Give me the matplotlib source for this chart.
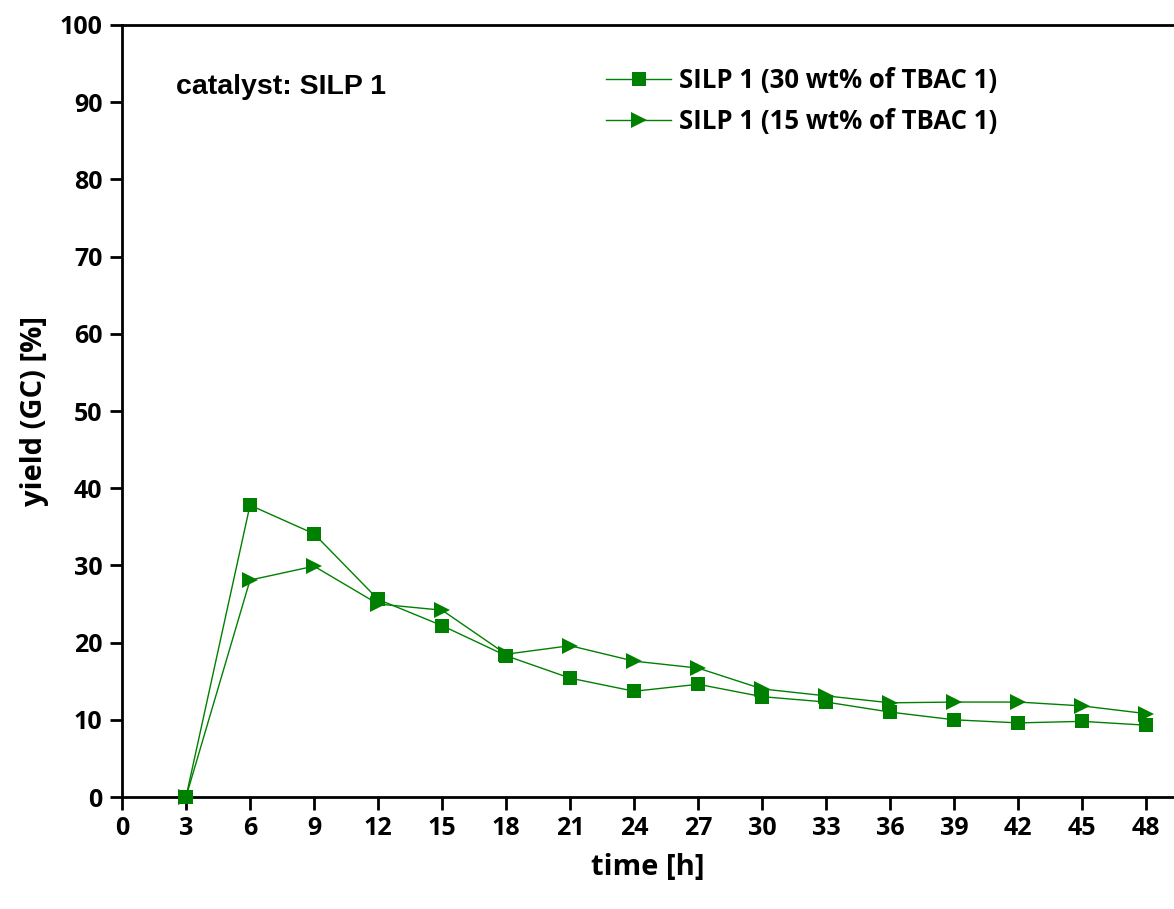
import matplotlib
matplotlib.use("Agg")
import matplotlib.pyplot as plt

# time points [h]
time_h = [3, 6, 9, 12, 15, 18, 21, 24, 27, 30, 33, 36, 39, 42, 45, 48]

# yield (GC) [%]
yield_30 = [0.0, 37.8, 34.1, 25.6, 22.2, 18.3, 15.4, 13.7, 14.6, 13.0, 12.3, 11.0, 10.0, 9.6, 9.8, 9.3]
yield_15 = [0.0, 28.1, 29.9, 25.0, 24.2, 18.5, 19.6, 17.6, 16.7, 14.0, 13.1, 12.2, 12.3, 12.3, 11.8, 10.8]

label_30 = "SILP 1 (30 wt% of TBAC 1)"
label_15 = "SILP 1 (15 wt% of TBAC 1)"

xticks = list(range(0, 49, 3))
yticks = list(range(0, 101, 10))

green = "#008000"
main_font = "Open Sans"

fig = plt.figure(figsize=(11.74, 9.09), dpi=100)
ax = fig.add_axes([0.1039, 0.1232, 0.8961, 0.8493])

ax.plot(time_h, yield_30, color=green, lw=1.0, marker="s", markersize=10,
        markeredgewidth=0, label=label_30, clip_on=False, zorder=3)
ax.plot(time_h, yield_15, color=green, lw=1.0, marker=">", markersize=12,
        markeredgewidth=0, label=label_15, clip_on=False, zorder=3)

ax.set_xlim(0, 49.3)
ax.set_ylim(0, 100)
ax.set_xticks(xticks)
ax.set_yticks(yticks)

for s in ["left", "bottom", "top"]:
    ax.spines[s].set_linewidth(2.0)
ax.spines["right"].set_visible(False)

ax.tick_params(direction="out", length=9, width=2.0, pad=5)
ax.tick_params(axis="y", pad=5)
for lab in ax.get_xticklabels() + ax.get_yticklabels():
    lab.set_fontfamily(main_font)
    lab.set_fontweight("bold")
    lab.set_fontsize(18)

ax.set_xlabel("time [h]", fontfamily=main_font, fontweight="bold", fontsize=21, labelpad=8)
ax.set_ylabel("yield (GC) [%]", fontfamily=main_font, fontweight="bold", fontsize=21, labelpad=8)

ax.text(0.0515, 0.92, "catalyst: SILP 1", transform=ax.transAxes,
        fontfamily="Liberation Sans", fontweight="bold", fontsize=20.5, va="center")

leg = ax.legend(loc="upper left", bbox_to_anchor=(0.4385, 0.976), frameon=False,
                prop={"family": main_font, "weight": "bold", "size": 18.5},
                handlelength=2.53, handletextpad=0.31, labelspacing=0.56)

fig.savefig("out.png", dpi=100)
